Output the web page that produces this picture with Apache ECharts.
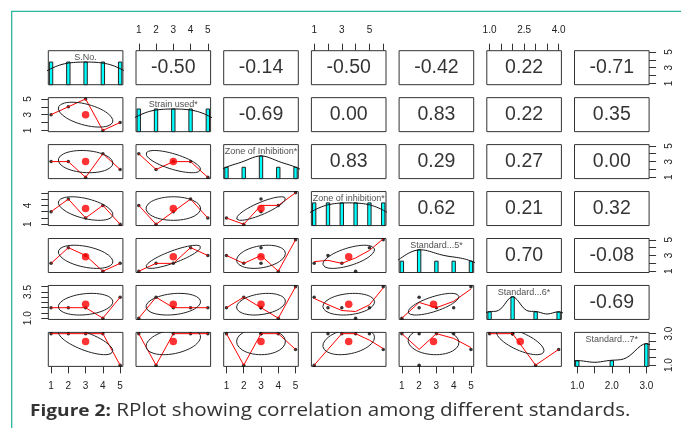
<!DOCTYPE html>
<html><head><meta charset="utf-8">
<script src="https://cdn.jsdelivr.net/npm/echarts@6/dist/echarts.min.js"></script>
<style>html,body{margin:0;padding:0;background:#fff}#c{width:681px;height:428px}</style>
</head><body><div id="c"></div>
<script>
// ---- data (six observations, null = missing) ----
const varNames = ['S.No.','Strain used*','Zone of Inhibition*','Zone of inhibition*','Standard...5*','Standard...6*','Standard...7*'];
const sNo    = [1,2,3,4,5,null];
const strain = [3,4,5,1,2,null];
const zoneA  = [3,3,1,4,2,5];
const zoneB  = [3,5,2,4,1,6];
const std5   = [2,4,3,1,2,5];
const std6   = [2,2,2,1,3,4];
const std7   = [3,3,3,3,1,2];
const vars = [sNo,strain,zoneA,zoneB,std5,std6,std7];

// tick values per variable
const tickValues = [[1,2,3,4,5],[1,2,3,4,5],[1,2,3,4,5],[1,2,3,4,5,6],[1,2,3,4,5],[1,1.5,2,2.5,3,3.5,4],[1,1.5,2,2.5,3]];
// tick labels on horizontal (top / bottom) axes
const hLabels = [['1','2','3','4','5'],['1','2','3','4','5'],['1','2','3','4','5'],['1','3','5'],['1','2','3','4','5'],['1.0','2.5','4.0'],['1.0','2.0','3.0']];
// tick labels on vertical (left / right) axes
const vLabels = [['1','3','5'],['1','3','5'],['1','3','5'],['1','4'],['1','3','5'],['1.0','3.5'],['1.0','3.0']];
const captionBold = 'Figure 2:';
const captionText = ' RPlot showing correlation among different standards.';

// ---- layout ----
const N = vars.length;
const L0 = 48.3, PX = 87.7, PW = 74.6, T0 = 50.7, PY = 46.95, PH = 34;
const FONT = 'Liberation Sans';

// ---- helpers ----
const clean = a => a.filter(v => v != null);
const mean = a => a.reduce((s,v)=>s+v,0)/a.length;
const sd = a => { const m = mean(a); return Math.sqrt(a.reduce((s,v)=>s+(v-m)*(v-m),0)/(a.length-1)); };
function pairOf(a,b){ const px=[],py=[]; for(let k=0;k<a.length;k++){ if(a[k]!=null && b[k]!=null){ px.push(a[k]); py.push(b[k]); } } return [px,py]; }
function cor(a,b){ const [x,y]=pairOf(a,b); const mx=mean(x), my=mean(y); let sxy=0,sxx=0,syy=0;
  for(let k=0;k<x.length;k++){ sxy+=(x[k]-mx)*(y[k]-my); sxx+=(x[k]-mx)**2; syy+=(y[k]-my)**2; }
  return sxy/Math.sqrt(sxx*syy); }
function fmt(r){ let s=(Math.round(r*100)/100).toFixed(2); if(s==='-0.00') s='0.00'; return s; }

function lowess(xIn, yIn, f=2/3, iter=3){
  const idx = xIn.map((_,i)=>i).sort((a,b)=>xIn[a]-xIn[b]);
  const x = idx.map(i=>xIn[i]), y = idx.map(i=>yIn[i]);
  const n = x.length;
  if (n < 2) return x.map((v,k)=>[v,y[k]]);
  const delta = 0.01*(x[n-1]-x[0]);
  const ys = new Array(n).fill(0), rw = new Array(n).fill(1), res = new Array(n).fill(0), w = new Array(n).fill(0);
  const ns = Math.max(2, Math.min(n, Math.floor(f*n + 1e-7)));
  function lowest(xs, nleft, nright, userw){
    const range = x[n-1]-x[0];
    const h = Math.max(xs-x[nleft], x[nright]-xs);
    const h9 = 0.999*h, h1 = 0.001*h;
    let a = 0, j = nleft;
    while (j < n){
      w[j] = 0;
      const r = Math.abs(x[j]-xs);
      if (r <= h9){
        w[j] = (r <= h1) ? 1 : Math.pow(1-Math.pow(r/h,3),3);
        if (userw) w[j] *= rw[j];
        a += w[j];
      } else if (x[j] > xs) break;
      j++;
    }
    const nrt = j-1;
    if (a <= 0) return null;
    for (j=nleft;j<=nrt;j++) w[j] /= a;
    if (h > 0){
      a = 0;
      for (j=nleft;j<=nrt;j++) a += w[j]*x[j];
      let b = xs - a, c = 0;
      for (j=nleft;j<=nrt;j++) c += w[j]*(x[j]-a)*(x[j]-a);
      if (Math.sqrt(c) > 0.001*range){
        b /= c;
        for (j=nleft;j<=nrt;j++) w[j] *= (b*(x[j]-a)+1);
      }
    }
    let s = 0;
    for (j=nleft;j<=nrt;j++) s += w[j]*y[j];
    return s;
  }
  for (let it=1; it<=iter+1; it++){
    let nleft=0, nright=ns-1, last=-1, i=0;
    for(;;){
      if (nright < n-1){
        const d1 = x[i]-x[nleft], d2 = x[nright+1]-x[i];
        if (d1 > d2){ nleft++; nright++; continue; }
      }
      const v = lowest(x[i], nleft, nright, it>1);
      ys[i] = (v === null) ? y[i] : v;
      if (last < i-1){
        const denom = x[i]-x[last];
        for (let j=last+1;j<i;j++){ const al=(x[j]-x[last])/denom; ys[j]=al*ys[i]+(1-al)*ys[last]; }
      }
      last = i;
      const cut = x[last]+delta;
      for (i=last+1;i<n;i++){
        if (x[i] > cut) break;
        if (x[i] === x[last]){ ys[i]=ys[last]; last=i; }
      }
      i = Math.max(last+1, i-1);
      if (last >= n-1) break;
    }
    for (let k=0;k<n;k++) res[k] = y[k]-ys[k];
    let sc = 0; for (let k=0;k<n;k++) sc += Math.abs(res[k]); sc /= n;
    if (it > iter) break;
    const ar = res.map(Math.abs).sort((a,b)=>a-b);
    const m1 = Math.floor(n/2);
    const cmad = (n%2===0) ? 3*(ar[m1]+ar[n-m1-1]) : 6*ar[m1];
    if (cmad < 1e-7*sc) break;
    const c9 = 0.999*cmad, c1 = 0.001*cmad;
    for (let k=0;k<n;k++){ const r=Math.abs(res[k]); rw[k] = r<=c1 ? 1 : (r<=c9 ? Math.pow(1-Math.pow(r/cmad,2),2) : 0); }
  }
  return x.map((v,k)=>[v, ys[k]]);
}

function ellipsePts(xm,ym,xs,ys,r){
  const t = (Math.abs(r) > 1e-12 ? Math.sign(r) : 1)/Math.SQRT2;
  const a = Math.sqrt(1+r), b = Math.sqrt(1-r);
  const pts = [];
  for (let s=0;s<=51;s++){
    const ang = s*2*Math.PI/51, c = Math.cos(ang), sn = Math.sin(ang);
    const ex = c*a*t - sn*b*t, ey = c*a*t + sn*b*t;
    pts.push([ex*xs+xm, ey*ys+ym]);
  }
  return pts;
}

function quantile7(s,p){ const h=(s.length-1)*p, lo=Math.floor(h), hi=Math.min(lo+1,s.length-1); return s[lo]+(h-lo)*(s[hi]-s[lo]); }
function densityCurve(v){
  const n = v.length, s = [...v].sort((a,b)=>a-b);
  const iqr = (quantile7(s,0.75)-quantile7(s,0.25))/1.34;
  let lo = Math.min(sd(v), iqr); if (!(lo>0)) lo = sd(v) || Math.abs(s[0]) || 1;
  const bw = 0.9*lo*Math.pow(n,-0.2);
  const a = s[0]-3*bw, b = s[n-1]+3*bw, M = 300, pts = [];
  for (let k=0;k<M;k++){ const xx = a+(b-a)*k/(M-1); let d=0; for (const u of v) d += Math.exp(-0.5*((xx-u)/bw)**2); pts.push([xx,d]); }
  const mx = Math.max(...pts.map(p=>p[1]));
  return pts.map(p=>[p[0], p[1]/mx]);
}

const ranges = vars.map(a=>{ const v=clean(a), lo=Math.min(...v), hi=Math.max(...v), d=(hi-lo)*0.04; return [lo-d, hi+d]; });

function makeAxis(g, r, side, ticks, labels, vertical){
  const ax = {type:'value', gridIndex:g, min:r[0], max:r[1]};
  if (!side){ ax.show=false; ax.position = vertical ? 'left' : 'bottom'; return ax; }
  ax.position = side;
  ax.axisLine = {show:false, onZero:false};
  ax.splitLine = {show:false};
  ax.axisTick = {show:true, length:7, inside:false, lineStyle:{color:'#333', width:1}, customValues:ticks};
  ax.axisLabel = {show:true, customValues:labels.map(Number),
    formatter: v => { const f = labels.find(s=>Math.abs(Number(s)-v)<1e-9); return f === undefined ? '' : f; },
    fontSize:10, fontFamily:FONT, color:'#222', margin:15, rotate: vertical ? 90 : 0};
  return ax;
}

const option = {animation:false, grid:[], xAxis:[], yAxis:[], series:[],
  graphic:[
    {type:'polyline', silent:true, shape:{points:[[11.7,428],[11.7,11.3],[681,11.3]]}, style:{stroke:'#2bb59b', lineWidth:1.3, fill:null}},
    {type:'text', silent:true, x:30, y:401, scaleX:1.18, scaleY:1,
      style:{text:'{b|'+captionBold+'}'+captionText, fontFamily:'Open Sans', fontSize:17.5, fill:'#333', verticalAlign:'top', lineHeight:20,
        rich:{b:{fontFamily:'Open Sans', fontSize:16.2, fontWeight:'bold', fill:'#333', lineHeight:20}}}}
  ]
};

const extraY = [];
for (let i=0;i<N;i++){
  for (let j=0;j<N;j++){
    const g = i*N+j;
    option.grid.push({left:L0+j*PX, top:T0+i*PY, width:PW, height:PH, show:true, borderColor:'#333', borderWidth:1, backgroundColor:'rgba(0,0,0,0)'});
    let xSide = null;
    if (i===0 && j%2===1) xSide = 'top';
    if (i===N-1 && j%2===0) xSide = 'bottom';
    option.xAxis.push(makeAxis(g, ranges[j], xSide, tickValues[j], hLabels[j], false));
    let ySide = null;
    if (j===0 && i%2===1) ySide = 'left';
    if (j===N-1 && i%2===0) ySide = 'right';
    option.yAxis.push(makeAxis(g, ranges[i], ySide, tickValues[i], vLabels[i], true));
  }
}
for (let k=0;k<N;k++){
  const g = k*N+k;
  extraY[k] = option.yAxis.length;
  option.yAxis.push({type:'value', gridIndex:g, min:0, max:1.5, show:false, position: (k===N-1 ? 'left' : 'right')});
}

for (let i=0;i<N;i++){
  for (let j=0;j<N;j++){
    const g = i*N+j;
    if (i > j){
      const [px,py] = pairOf(vars[j], vars[i]);
      const r = cor(vars[j], vars[i]);
      const cx = clean(vars[j]), cy = clean(vars[i]);
      option.series.push({type:'scatter', silent:true, xAxisIndex:g, yAxisIndex:g, data:px.map((v,k)=>[v,py[k]]), symbolSize:3.5, itemStyle:{color:'#000'}});
      option.series.push({type:'line', silent:true, xAxisIndex:g, yAxisIndex:g, data:lowess(px,py), symbol:'none', showSymbol:false, lineStyle:{color:'#ff0000', width:1}, clip:true});
      option.series.push({type:'scatter', silent:true, xAxisIndex:g, yAxisIndex:g, data:[[mean(cx), mean(cy)]], symbolSize:7.5, itemStyle:{color:'#ff0000'}});
      option.series.push({type:'line', silent:true, xAxisIndex:g, yAxisIndex:g, data:ellipsePts(mean(cx), mean(cy), sd(cx), sd(cy), r), symbol:'none', showSymbol:false, lineStyle:{color:'#222', width:1}, clip:true});
    } else if (i < j){
      const r = cor(vars[i], vars[j]);
      const rx = ranges[j], ry = ranges[i];
      option.series.push({type:'scatter', silent:true, xAxisIndex:g, yAxisIndex:g, data:[[(rx[0]+rx[1])/2,(ry[0]+ry[1])/2]], symbolSize:1,
        itemStyle:{color:'rgba(0,0,0,0)'}, label:{show:true, position:'inside', formatter:fmt(r), fontSize:19.5, fontFamily:FONT, color:'#000'}});
    } else {
      const v = clean(vars[i]);
      const uniq = [...new Set(v)].sort((a,b)=>a-b);
      const counts = uniq.map(u=>v.filter(q=>q===u).length);
      const maxc = Math.max(...counts);
      let md = Infinity; for (let k=1;k<uniq.length;k++) md = Math.min(md, uniq[k]-uniq[k-1]);
      const ib = md*(uniq.length-1)/41;
      const yi = extraY[i];
      option.series.push({type:'custom', silent:true, xAxisIndex:g, yAxisIndex:yi, data:uniq.map((u,k)=>[u, counts[k]/maxc, ib]),
        renderItem:(params, api)=>{
          const c = api.value(0), h = api.value(1), w = api.value(2);
          const p1 = api.coord([c-w, h]), p2 = api.coord([c+w, 0]);
          return {type:'rect', shape:{x:p1[0], y:p1[1], width:p2[0]-p1[0], height:p2[1]-p1[1]}, style:{fill:'#00ffff', stroke:'#222', lineWidth:1}};
        }});
      option.series.push({type:'line', silent:true, xAxisIndex:g, yAxisIndex:yi, data:densityCurve(v), symbol:'none', showSymbol:false, lineStyle:{color:'#111', width:1}, clip:true});
      const rx = ranges[i];
      option.series.push({type:'scatter', silent:true, xAxisIndex:g, yAxisIndex:yi, data:[[(rx[0]+rx[1])/2, 1.2]], symbolSize:1,
        itemStyle:{color:'rgba(0,0,0,0)'}, label:{show:true, position:'inside', formatter:varNames[i], fontSize:9, fontFamily:FONT, color:'#222'}});
    }
  }
}

const chart = echarts.init(document.getElementById('c'), null, {renderer:'canvas'});
chart.setOption(option);
</script>
</body></html>
